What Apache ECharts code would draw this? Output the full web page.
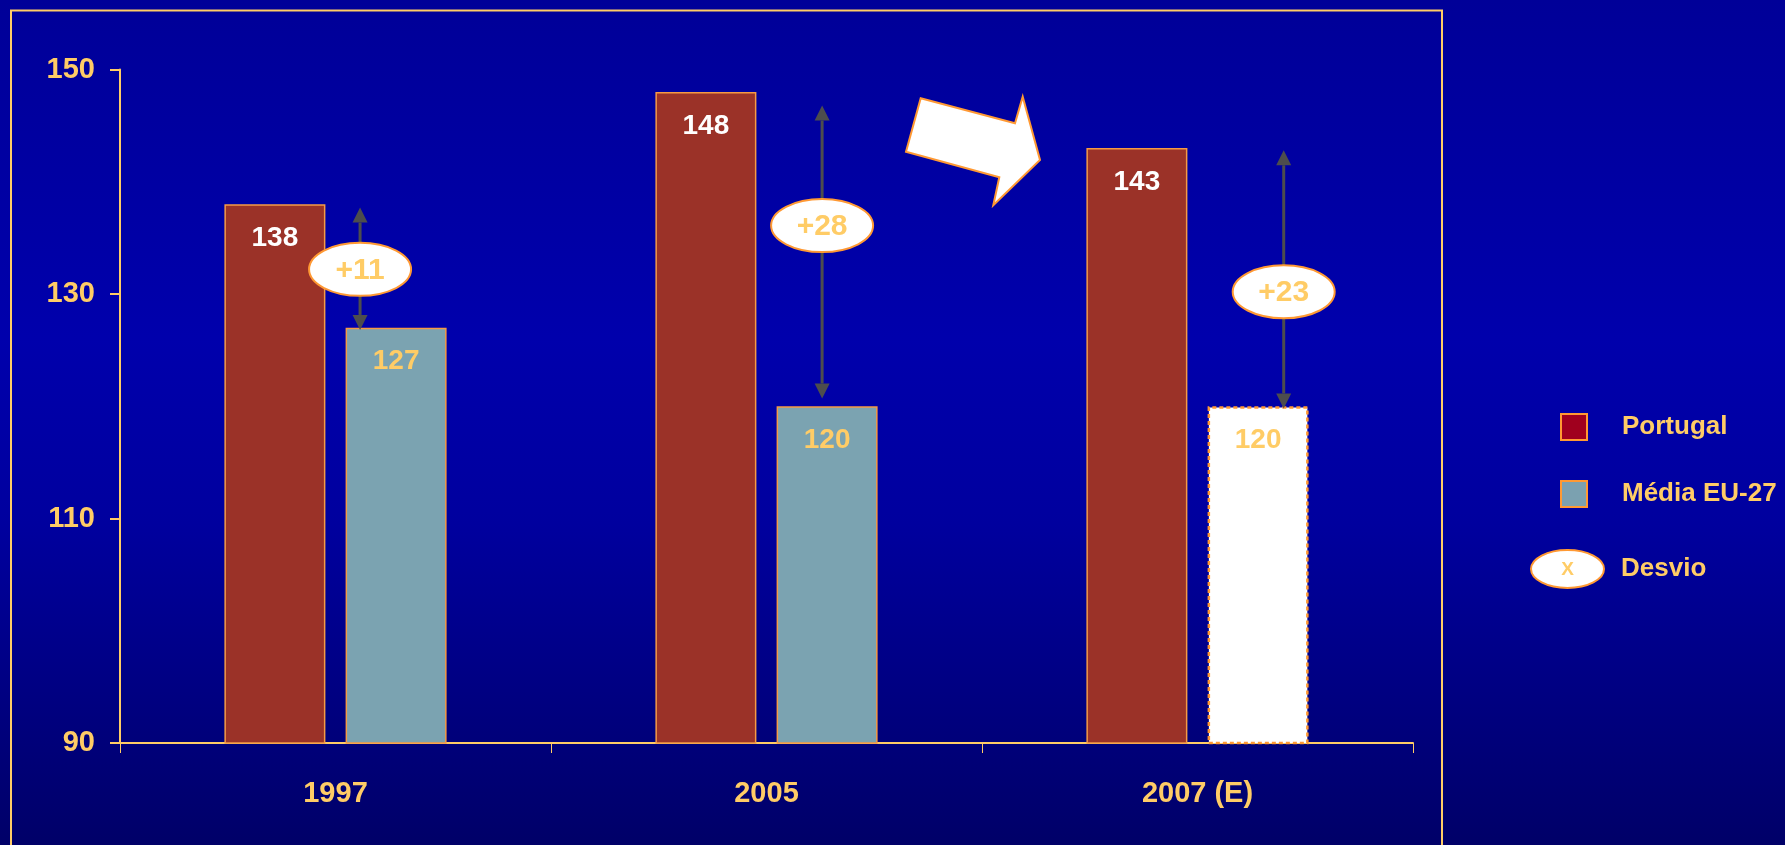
<!DOCTYPE html>
<html>
<head>
<meta charset="utf-8">
<script src="https://cdn.jsdelivr.net/npm/echarts@6/dist/echarts.min.js"></script>
<style>
  html, body { margin: 0; padding: 0; }
  #chart {
    width: 1785px; height: 845px;
    background: linear-gradient(to bottom, #000098 0%, #0000AC 40%, #00009E 62%, #000068 100%);
  }
</style>
</head>
<body>
<div id="chart"></div>
<script>
// Years compared
const categories = ['1997', '2005', '2007 (E)'];
// Index values per year
const portugal = [138, 148, 143];
const euAverage = [127, 120, 120];
// The last EU value is an estimate
const euEstimated = [false, false, true];
// Value axis ticks
const yTicks = [90, 110, 130, 150];
// Gap arrows: top tip, bottom tip and where the bubble sits (axis values)
const gapTop = [137.7, 146.8, 142.8];
const gapBottom = [126.8, 120.7, 119.8];
const bubbleAt = [132.2, 136.1, 130.2];

// Horizontal placement of each gap arrow, as a share of the category band
const gapShift = [0.057, 0.129, 0.2];

const GOLD = '#FFCC66';
const ORANGE = '#FF9933';
const FONT = '"Liberation Sans", Arial, sans-serif';

const chart = echarts.init(document.getElementById('chart'), null, { renderer: 'canvas' });

const euData = euAverage.map((v, i) => euEstimated[i]
  ? { value: v, itemStyle: { color: '#FFFFFF', borderColor: ORANGE, borderWidth: 2.5, borderType: [4, 3] } }
  : v);

const gapData = categories.map((c, i) => [i, gapTop[i], gapBottom[i], bubbleAt[i]]);

function renderGap(params, api) {
  const i = api.value(0);
  const band = api.size([1, 0])[0];
  const pTop = api.coord([i, api.value(1)]);
  const pBot = api.coord([i, api.value(2)]);
  const pMid = api.coord([i, api.value(3)]);
  const x = pTop[0] + gapShift[i] * band;
  const head = 15, half = 7.5;
  const diff = portugal[i] - euAverage[i];
  return {
    type: 'group',
    children: [
      { type: 'line', shape: { x1: x, y1: pTop[1] + head, x2: x, y2: pBot[1] - head },
        style: { stroke: '#4D4D4D', lineWidth: 3 } },
      { type: 'polygon', shape: { points: [[x, pTop[1]], [x - half, pTop[1] + head], [x + half, pTop[1] + head]] },
        style: { fill: '#4D4D4D' } },
      { type: 'polygon', shape: { points: [[x, pBot[1]], [x - half, pBot[1] - head], [x + half, pBot[1] - head]] },
        style: { fill: '#4D4D4D' } },
      { type: 'ellipse', shape: { cx: x, cy: pMid[1], rx: 51, ry: 26.5 },
        style: { fill: '#FFFFFF', stroke: ORANGE, lineWidth: 2 } },
      { type: 'text', x: x, y: pMid[1] + 1,
        style: { text: '+' + diff, fill: GOLD, font: 'bold 30px ' + FONT, align: 'center', verticalAlign: 'middle' } }
    ]
  };
}

const option = {
  animation: false,
  backgroundColor: 'transparent',
  textStyle: { fontFamily: FONT },
  grid: { left: 120, right: 372, top: 69.5, bottom: 102 },
  legend: {
    orient: 'vertical',
    left: 1555, top: 408,
    icon: 'rect',
    itemWidth: 26, itemHeight: 26, itemGap: 39,
    selectedMode: false,
    textStyle: { color: GOLD, fontSize: 26, fontWeight: 'bold', fontFamily: FONT, lineHeight: 26, padding: [0, 0, 0, 30] },
    data: [
      { name: 'Portugal', itemStyle: { color: '#A0001E', borderColor: ORANGE, borderWidth: 2 } },
      { name: 'Média EU-27', itemStyle: { color: '#7BA1B0', borderColor: ORANGE, borderWidth: 2 } }
    ]
  },
  xAxis: {
    type: 'category',
    data: categories,
    axisLine: { lineStyle: { color: GOLD, width: 2 } },
    axisTick: { show: true, length: 10, lineStyle: { color: GOLD, width: 1 } },
    axisLabel: { color: GOLD, fontSize: 29, fontWeight: 'bold', fontFamily: FONT, margin: 36 }
  },
  yAxis: {
    type: 'value',
    min: yTicks[0], max: yTicks[yTicks.length - 1], interval: yTicks[1] - yTicks[0],
    splitLine: { show: false },
    axisLine: { show: true, lineStyle: { color: GOLD, width: 2 } },
    axisTick: { show: true, length: 10, lineStyle: { color: GOLD, width: 2 } },
    axisLabel: { color: GOLD, fontSize: 29, fontWeight: 'bold', fontFamily: FONT, margin: 25 }
  },
  series: [
    {
      name: 'Portugal', type: 'bar', data: portugal, barWidth: 101,
      itemStyle: { color: '#9B3228', borderColor: '#F59A45', borderWidth: 1.5 },
      label: { show: true, position: 'insideTop', distance: 20, color: '#FFFFFF', fontSize: 28, fontWeight: 'bold', fontFamily: FONT }
    },
    {
      name: 'Média EU-27', type: 'bar', data: euData, barWidth: 101, barGap: '20%',
      itemStyle: { color: '#7BA3B1', borderColor: '#F59A45', borderWidth: 1.5 },
      label: { show: true, position: 'insideTop', distance: 20, color: GOLD, fontSize: 28, fontWeight: 'bold', fontFamily: FONT }
    },
    {
      name: 'Desvio', type: 'custom', data: gapData, renderItem: renderGap, z: 5, clip: false
    }
  ],
  graphic: [
    { type: 'rect', shape: { x: 11, y: 10.5, width: 1431, height: 900 },
      style: { fill: 'none', stroke: GOLD, lineWidth: 2 }, z: 1 },
    { type: 'polygon', z: 10,
      shape: { points: [[920.7, 98.3], [1015, 123.3], [1022.7, 96.7], [1040, 160], [993.3, 205.3], [999.3, 177.3], [906, 151.7]] },
      style: { fill: '#FFFFFF', stroke: ORANGE, lineWidth: 2 } },
    { type: 'ellipse', shape: { cx: 1567.5, cy: 569, rx: 36.5, ry: 19 },
      style: { fill: '#FFFFFF', stroke: ORANGE, lineWidth: 2 }, z: 10 },
    { type: 'text', x: 1567.5, y: 570, z: 11,
      style: { text: 'X', fill: GOLD, font: 'bold 19px ' + FONT, align: 'center', verticalAlign: 'middle' } },
    { type: 'text', x: 1621, y: 569, z: 11,
      style: { text: 'Desvio', fill: GOLD, font: 'bold 26px ' + FONT, align: 'left', verticalAlign: 'middle' } }
  ]
};

chart.setOption(option);
</script>
</body>
</html>
